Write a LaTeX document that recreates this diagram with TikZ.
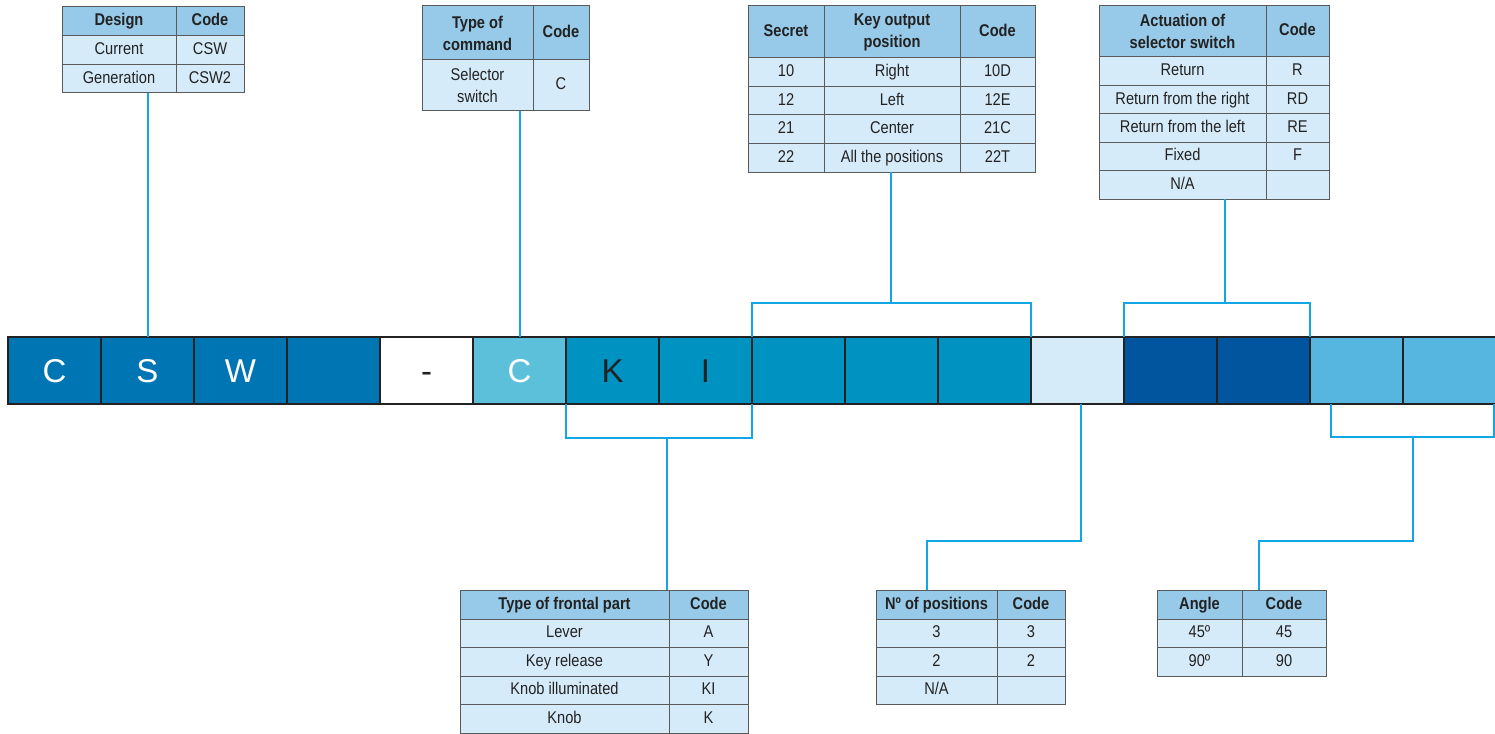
\documentclass[tikz,border=0pt]{standalone}
\usepackage{fontspec}
\setmainfont{Liberation Sans}[FakeStretch=0.86]
\newfontfamily\barfont{Liberation Sans}
\usepackage{tikz}

\definecolor{barline}{RGB}{34,34,34}
\definecolor{barA}{RGB}{0,117,180}
\definecolor{barC}{RGB}{93,192,218}
\definecolor{barB}{RGB}{0,147,194}
\definecolor{barL}{RGB}{214,235,249}
\definecolor{barD}{RGB}{0,85,158}
\definecolor{barE}{RGB}{87,182,224}
\definecolor{tabhead}{RGB}{150,202,232}
\definecolor{tabbody}{RGB}{214,235,249}
\definecolor{tabline}{RGB}{90,90,90}
\definecolor{tabtext}{RGB}{34,34,34}
\definecolor{linkblue}{RGB}{18,166,228}

\tikzset{
  barcell/.style={draw=barline, line width=2pt, outer sep=0pt, inner sep=0pt,
    minimum width=93pt, minimum height=67pt, anchor=north west,
    text height=24pt, text depth=0pt,
    font=\barfont\fontsize{33}{33}\selectfont},
  cellbase/.style={line width=1pt, outer sep=0pt, inner sep=0pt,
    anchor=north west, align=center, text=tabtext},
  headtwo/.style={cellbase, draw=tabline, fill=tabhead,
    font=\fontsize{17}{22}\selectfont\bfseries},
  bodytwo/.style={cellbase, draw=tabline, fill=tabbody,
    font=\fontsize{17}{22}\selectfont},
  headcell/.style={headtwo, text height=12.5pt, text depth=3.5pt},
  bodycell/.style={bodytwo, text height=12.5pt, text depth=3.5pt},
  link/.style={draw=linkblue, line width=2pt},
}

\begin{document}
\begin{tikzpicture}[x=1pt,y=-1pt]
\useasboundingbox (0,0) rectangle (1495,733);

% code bar
\node[barcell, fill=barA, text=white] (bar-1) at (8,337) {C};
\node[barcell, fill=barA, text=white] (bar-2) at (101,337) {S};
\node[barcell, fill=barA, text=white] (bar-3) at (194,337) {W};
\node[barcell, fill=barA] (bar-4) at (287,337) {};
\node[barcell, fill=white, text=barline] (bar-5) at (380,337) {-};
\node[barcell, fill=barC, text=white] (bar-6) at (473,337) {C};
\node[barcell, fill=barB, text=barline] (bar-7) at (566,337) {K};
\node[barcell, fill=barB, text=barline] (bar-8) at (659,337) {I};
\node[barcell, fill=barB] (bar-9) at (752,337) {};
\node[barcell, fill=barB] (bar-10) at (845,337) {};
\node[barcell, fill=barB] (bar-11) at (938,337) {};
\node[barcell, fill=barL] (bar-12) at (1031,337) {};
\node[barcell, fill=barD] (bar-13) at (1124,337) {};
\node[barcell, fill=barD] (bar-14) at (1217,337) {};
\node[barcell, fill=barE] (bar-15) at (1310,337) {};
\node[barcell, fill=barE] (bar-16) at (1403,337) {};

% design
\node[headcell, minimum width=114pt, minimum height=29pt] (des-h1) at (62,7) {Design};
\node[headcell, minimum width=68pt, minimum height=29pt] (des-h2) at (176,7) {Code};
\foreach \a/\b [count=\i] in {Current/CSW, Generation/CSW2} {
  \node[bodycell, minimum width=114pt, minimum height=28.5pt] (des-\i-1) at (62,{36+(\i-1)*28.5}) {\a};
  \node[bodycell, minimum width=68pt, minimum height=28.5pt] (des-\i-2) at (176,{36+(\i-1)*28.5}) {\b};
}

% type of command
\node[headtwo, minimum width=111pt, minimum height=54pt] (cmd-h1) at (422,6) {Type of\\command};
\node[headcell, minimum width=56pt, minimum height=54pt] (cmd-h2) at (533,6) {Code};
\node[bodytwo, minimum width=111pt, minimum height=51pt] (cmd-1-1) at (422,60) {Selector\\switch};
\node[bodycell, minimum width=56pt, minimum height=51pt] (cmd-1-2) at (533,60) {C};

% secret / key output position
\node[headcell, minimum width=76pt, minimum height=52pt] (sec-h1) at (748,6) {Secret};
\node[headtwo, minimum width=136pt, minimum height=52pt] (sec-h2) at (824,6) {Key output\\position};
\node[headcell, minimum width=75pt, minimum height=52pt] (sec-h3) at (960,6) {Code};
\foreach \a/\b/\c [count=\i] in {10/Right/10D, 12/Left/12E, 21/Center/21C, 22/All the positions/22T} {
  \node[bodycell, minimum width=76pt, minimum height=28.5pt] (sec-\i-1) at (748,{58+(\i-1)*28.5}) {\a};
  \node[bodycell, minimum width=136pt, minimum height=28.5pt] (sec-\i-2) at (824,{58+(\i-1)*28.5}) {\b};
  \node[bodycell, minimum width=75pt, minimum height=28.5pt] (sec-\i-3) at (960,{58+(\i-1)*28.5}) {\c};
}

% actuation
\node[headtwo, minimum width=167pt, minimum height=51pt] (act-h1) at (1099,6) {Actuation of\\selector switch};
\node[headcell, minimum width=63pt, minimum height=51pt] (act-h2) at (1266,6) {Code};
\foreach \a/\b [count=\i] in {Return/R, Return from the right/RD, Return from the left/RE, Fixed/F, {N/A}/{}} {
  \node[bodycell, minimum width=167pt, minimum height=28.4pt] (act-\i-1) at (1099,{57+(\i-1)*28.4}) {\a};
  \node[bodycell, minimum width=63pt, minimum height=28.4pt] (act-\i-2) at (1266,{57+(\i-1)*28.4}) {\b};
}

% frontal part
\node[headcell, minimum width=209pt, minimum height=29pt] (frt-h1) at (460,590) {Type of frontal part};
\node[headcell, minimum width=79pt, minimum height=29pt] (frt-h2) at (669,590) {Code};
\foreach \a/\b [count=\i] in {Lever/A, Key release/Y, Knob illuminated/KI, Knob/K} {
  \node[bodycell, minimum width=209pt, minimum height=28.5pt] (frt-\i-1) at (460,{619+(\i-1)*28.5}) {\a};
  \node[bodycell, minimum width=79pt, minimum height=28.5pt] (frt-\i-2) at (669,{619+(\i-1)*28.5}) {\b};
}

% number of positions
\node[headcell, minimum width=121pt, minimum height=29pt] (pos-h1) at (876,590) {Nº of positions};
\node[headcell, minimum width=68pt, minimum height=29pt] (pos-h2) at (997,590) {Code};
\foreach \a/\b [count=\i] in {3/3, 2/2, {N/A}/{}} {
  \node[bodycell, minimum width=121pt, minimum height=28.5pt] (pos-\i-1) at (876,{619+(\i-1)*28.5}) {\a};
  \node[bodycell, minimum width=68pt, minimum height=28.5pt] (pos-\i-2) at (997,{619+(\i-1)*28.5}) {\b};
}

% angle
\node[headcell, minimum width=85pt, minimum height=29pt] (ang-h1) at (1157,590) {Angle};
\node[headcell, minimum width=84pt, minimum height=29pt] (ang-h2) at (1242,590) {Code};
\foreach \a/\b [count=\i] in {45º/45, 90º/90} {
  \node[bodycell, minimum width=85pt, minimum height=28.5pt] (ang-\i-1) at (1157,{619+(\i-1)*28.5}) {\a};
  \node[bodycell, minimum width=84pt, minimum height=28.5pt] (ang-\i-2) at (1242,{619+(\i-1)*28.5}) {\b};
}

% connectors above
\draw[link] (bar-2.north) -- (bar-2.north |- des-2-1.south);
\draw[link] (bar-6.north) -- (bar-6.north |- cmd-1-1.south);
\coordinate (sec-br) at (891,303);
\draw[link] (bar-9.north west) |- (sec-br) -| (bar-11.north east);
\draw[link] (sec-br) -- (sec-br |- sec-4-2.south);
\coordinate (act-br) at (1225,303);
\draw[link] (bar-13.north west) |- (act-br) -| (bar-14.north east);
\draw[link] (act-br) -- (act-br |- act-5-1.south);

% connectors below
\coordinate (frt-br) at (667,438);
\draw[link] (bar-7.south west) |- (frt-br) -| (bar-8.south east);
\draw[link] (frt-br) -- (frt-br |- frt-h1.north);
\coordinate (pos-br) at (1081,541);
\coordinate (pos-bend) at (927,541);
\draw[link] (pos-br |- bar-12.south) -- (pos-br) -- (pos-bend) -- (pos-bend |- pos-h1.north);
\coordinate (ang-l) at (1331,437);
\coordinate (ang-r) at (1494,437);
\coordinate (ang-br) at (1413,437);
\coordinate (ang-bend) at (1259,541);
\draw[link] (ang-l |- bar-15.south) -- (ang-l) -- (ang-r) -- (ang-r |- bar-16.south);
\draw[link] (ang-br) |- (ang-bend) -- (ang-bend |- ang-h1.north);

\end{tikzpicture}
\end{document}
